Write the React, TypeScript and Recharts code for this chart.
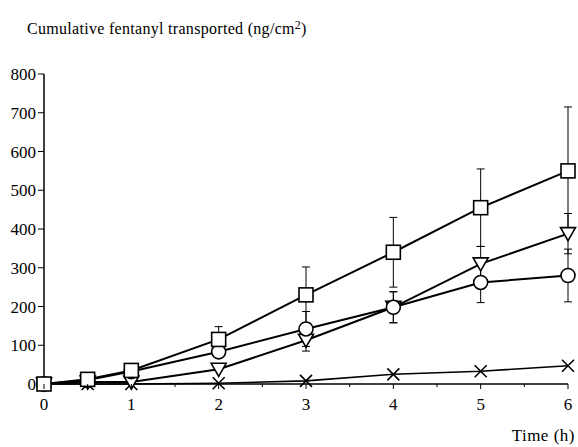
import React from 'react';
import { LineChart, Line, XAxis, YAxis, ErrorBar } from 'recharts';

const times = [0, 0.5, 1, 2, 3, 4, 5, 6];
const squareVals = [0, 12, 35, 115, 230, 340, 455, 550];
const squareErr = [0, 0, 0, 33, 72, 90, 100, 165];
const circleVals = [0, 10, 32, 83, 142, 198, 262, 280];
const circleErr = [0, 0, 0, 0, 45, 40, 52, 68];
const triangleVals = [0, 5, 5, 38, 113, 198, 310, 388];
const triangleErr = [0, 0, 0, 0, 28, 40, 45, 52];
const crossVals = [0, 0, 0, 2, 8, 25, 33, 47];
const yTicks = [0, 100, 200, 300, 400, 500, 600, 700, 800];
const xTicks = [0, 0.5, 1, 1.5, 2, 2.5, 3, 3.5, 4, 4.5, 5, 5.5, 6];

const data = times.map((t, i) => ({
  t,
  sq: squareVals[i],
  sqE: squareErr[i] ? [squareErr[i], squareErr[i]] : null,
  ci: circleVals[i],
  ciE: circleErr[i] ? [circleErr[i], circleErr[i]] : null,
  tr: triangleVals[i],
  trE: triangleErr[i] ? [triangleErr[i], triangleErr[i]] : null,
  cr: crossVals[i],
}));

const FONT = '"Liberation Serif", "DejaVu Serif", serif';

const SquareDot = (p: any) => (
  <rect key={`sq-${p.index}`} x={p.cx - 7} y={p.cy - 7} width={14} height={14} fill="#fff" stroke="#000" strokeWidth={1.6} />
);
const CircleDot = (p: any) => (
  <circle key={`ci-${p.index}`} cx={p.cx} cy={p.cy} r={7} fill="#fff" stroke="#000" strokeWidth={1.6} />
);
const TriangleDot = (p: any) => (
  <path key={`tr-${p.index}`} d={`M${p.cx - 7.5},${p.cy - 6} L${p.cx + 7.5},${p.cy - 6} L${p.cx},${p.cy + 7} Z`} fill="#fff" stroke="#000" strokeWidth={1.6} />
);
const CrossDot = (p: any) => (
  <path key={`cr-${p.index}`} d={`M${p.cx - 6},${p.cy - 6} L${p.cx + 6},${p.cy + 6} M${p.cx - 6},${p.cy + 6} L${p.cx + 6},${p.cy - 6}`} stroke="#000" strokeWidth={1.6} fill="none" />
);

const XTick = (p: any) => {
  const v = p.payload.value;
  const major = Number.isInteger(v);
  return (
    <g>
      <line x1={p.x} x2={p.x} y1={p.y} y2={p.y + (major ? 5 : 3)} stroke="#000" strokeWidth={1} />
      {major && (
        <text x={p.x} y={p.y + 26} textAnchor="middle" fontSize={17} fontFamily={FONT} fill="#000">
          {v}
        </text>
      )}
    </g>
  );
};

const YTick = (p: any) => (
  <text x={p.x} y={p.y + 6} textAnchor="end" fontSize={17} fontFamily={FONT} fill="#000">
    {p.payload.value}
  </text>
);

export default function App() {
  return (
    <div style={{ position: 'absolute', left: 0, top: 0, width: 578, height: 447, background: '#fff' }}>
      <LineChart width={578} height={447} data={data} margin={{ top: 74, right: 10, left: 0, bottom: 33 }}>
        <XAxis
          dataKey="t"
          type="number"
          domain={[0, 6]}
          ticks={xTicks}
          tick={XTick}
          tickLine={false}
          tickSize={0}
          tickMargin={0}
          interval={0}
          axisLine={{ stroke: '#000', strokeWidth: 1.5 }}
          height={30}
        />
        <YAxis
          type="number"
          domain={[0, 800]}
          ticks={yTicks}
          width={44}
          tickSize={6}
          tickMargin={2}
          interval={0}
          axisLine={{ stroke: '#000', strokeWidth: 1.5 }}
          tickLine={{ stroke: '#000', strokeWidth: 1 }}
          tick={YTick}
        />
        <Line dataKey="cr" stroke="#000" strokeWidth={1.6} dot={false} isAnimationActive={false} />
        <Line dataKey="tr" stroke="#000" strokeWidth={2} dot={false} isAnimationActive={false}>
          <ErrorBar dataKey="trE" width={4} stroke="#000" strokeWidth={1} direction="y" />
        </Line>
        <Line dataKey="ci" stroke="#000" strokeWidth={2} dot={false} isAnimationActive={false}>
          <ErrorBar dataKey="ciE" width={4} stroke="#000" strokeWidth={1} direction="y" />
        </Line>
        <Line dataKey="sq" stroke="#000" strokeWidth={2} dot={false} isAnimationActive={false}>
          <ErrorBar dataKey="sqE" width={4} stroke="#000" strokeWidth={1} direction="y" />
        </Line>
        <Line dataKey="cr" stroke="none" dot={CrossDot} isAnimationActive={false} legendType="none" />
        <Line dataKey="tr" stroke="none" dot={TriangleDot} isAnimationActive={false} legendType="none" />
        <Line dataKey="ci" stroke="none" dot={CircleDot} isAnimationActive={false} legendType="none" />
        <Line dataKey="sq" stroke="none" dot={SquareDot} isAnimationActive={false} legendType="none" />
        <text x={27} y={34} fontSize={16} fontFamily={FONT} fill="#000" letterSpacing={0.3}>
          Cumulative fentanyl transported (ng/cm<tspan fontSize={12} dy={-5}>2</tspan><tspan dy={5}>)</tspan>
        </text>
        <text x={575} y={441} textAnchor="end" fontSize={17} fontFamily={FONT} fill="#000" letterSpacing={0.5}>
          Time (h)
        </text>
      </LineChart>
    </div>
  );
}
